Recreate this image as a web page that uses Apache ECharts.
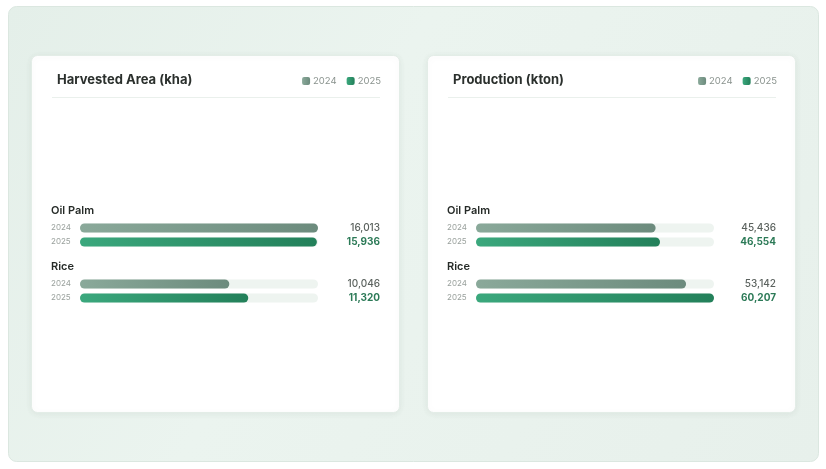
<!DOCTYPE html>
<html>
<head>
<meta charset="utf-8">
<script src="https://cdn.jsdelivr.net/npm/echarts@6/dist/echarts.min.js"></script>
<style>
  html, body { margin: 0; padding: 0; background: #ffffff; }
  #chart { width: 826px; height: 469px; }
</style>
</head>
<body>
<div id="chart"></div>
<script>
const crops = ['Oil Palm', 'Rice']
const years = ['2024', '2025']
const areaTitle = 'Harvested Area (kha)'
const area2024 = [16013, 10046]
const area2025 = [15936, 11320]
const prodTitle = 'Production (kton)'
const prod2024 = [45436, 53142]
const prod2025 = [46554, 60207]

const FONT = 'Inter, "Noto Sans", sans-serif'
const trackColor = '#eef4f0'
const color2024 = new echarts.graphic.LinearGradient(0, 0, 1, 0, [
  { offset: 0, color: '#8aa99a' }, { offset: 1, color: '#6c8b7d' }
])
const color2025 = new echarts.graphic.LinearGradient(0, 0, 1, 0, [
  { offset: 0, color: '#3ba87d' }, { offset: 1, color: '#23805a' }
])

const fmt = v => v.toLocaleString('en-US')

// card left offsets
const cards = [
  { x: 31, title: areaTitle, v24: area2024, v25: area2025 },
  { x: 427, title: prodTitle, v24: prod2024, v25: prod2025 }
]
const rowTops = [221, 277]

const grids = [], xAxes = [], yAxes = [], series = [], titles = [], legends = [], graphics = []

graphics.push({
  type: 'rect', left: 8, top: 6, z: -10,
  shape: { width: 810, height: 455, r: 8 },
  style: {
    fill: new echarts.graphic.LinearGradient(0, 0, 1, 1, [
      { offset: 0, color: '#e4efe9' }, { offset: 0.4, color: '#ebf4ef' },
      { offset: 1, color: '#e7f0eb' }
    ]),
    stroke: '#dbe7e0', lineWidth: 1
  }
})

cards.forEach((card, ci) => {
  const max = Math.max(...card.v24, ...card.v25)
  graphics.push({
    type: 'rect', left: card.x, top: 55, z: -5,
    shape: { width: 368, height: 357, r: 6 },
    style: { fill: '#ffffff', stroke: '#e3ede7', lineWidth: 1,
      shadowBlur: 6, shadowColor: 'rgba(60,100,80,0.08)', shadowOffsetY: 1 }
  })
  graphics.push({
    type: 'line', z: -4,
    shape: { x1: card.x + 21, y1: 97.5, x2: card.x + 349, y2: 97.5 },
    style: { stroke: '#eaf0ec', lineWidth: 1 }
  })
  titles.push({
    text: card.title, left: card.x + 26, top: 74, padding: 0,
    textStyle: { fontFamily: FONT, fontSize: 13, fontWeight: 700, color: '#2b302d' }
  })
  legends.push({
    data: years, right: 826 - (card.x + 350), top: 76, padding: 0,
    itemWidth: 8, itemHeight: 8, itemGap: 10, icon: 'roundRect',
    selectedMode: false,
    textStyle: { fontFamily: FONT, fontSize: 9.5, color: '#8a938e', padding: [0, 0, 0, -2] }
  })

  crops.forEach((crop, ri) => {
    const gi = grids.length
    grids.push({ left: card.x + 49, top: rowTops[ri], width: 238, height: 28 })
    xAxes.push({ gridIndex: gi, type: 'value', min: 0, max: max, show: false })
    yAxes.push({
      gridIndex: gi, type: 'category', inverse: true, data: years,
      axisLine: { show: false }, axisTick: { show: false },
      axisLabel: { interval: 0, align: 'left', margin: 29, fontFamily: FONT, fontSize: 8, color: '#9aa19d' }
    })
    yAxes.push({
      gridIndex: gi, type: 'category', inverse: true, position: 'right',
      data: [fmt(card.v24[ri]), fmt(card.v25[ri])],
      axisLine: { show: false }, axisTick: { show: false },
      axisLabel: {
        interval: 0, align: 'right', margin: 62,
        formatter: (v, i) => i === 0 ? '{a|' + v + '}' : '{b|' + v + '}',
        rich: {
          a: { fontFamily: FONT, fontSize: 10, fontWeight: 500, color: '#5b625e' },
          b: { fontFamily: FONT, fontSize: 10, fontWeight: 700, color: '#2c7a57' }
        }
      }
    })
    const yi = yAxes.length - 2
    series.push({
      type: 'bar', name: 'track', xAxisIndex: gi, yAxisIndex: yi, silent: true,
      data: [max, max], barWidth: 9, barGap: '-100%',
      itemStyle: { color: trackColor, borderRadius: 4.5 }
    })
    series.push({
      type: 'bar', name: '2024', xAxisIndex: gi, yAxisIndex: yi,
      data: [card.v24[ri], null], barWidth: 9, barGap: '-100%',
      itemStyle: { color: color2024, borderRadius: 4.5 }
    })
    series.push({
      type: 'bar', name: '2025', xAxisIndex: gi, yAxisIndex: yi,
      data: [null, card.v25[ri]], barWidth: 9, barGap: '-100%',
      itemStyle: { color: color2025, borderRadius: 4.5 }
    })
    graphics.push({
      type: 'text', left: card.x + 20, top: rowTops[ri] - 16,
      style: { text: crop, fontFamily: FONT, fontSize: 11, fontWeight: 600, fill: '#262b28' }
    })
  })
})

const chart = echarts.init(document.getElementById('chart'), null, { renderer: 'canvas' })
chart.setOption({
  animation: false,
  color: ['#6f9080', '#268a60'],
  title: titles,
  legend: legends,
  grid: grids,
  xAxis: xAxes,
  yAxis: yAxes,
  series: series,
  graphic: graphics
})
</script>
</body>
</html>
